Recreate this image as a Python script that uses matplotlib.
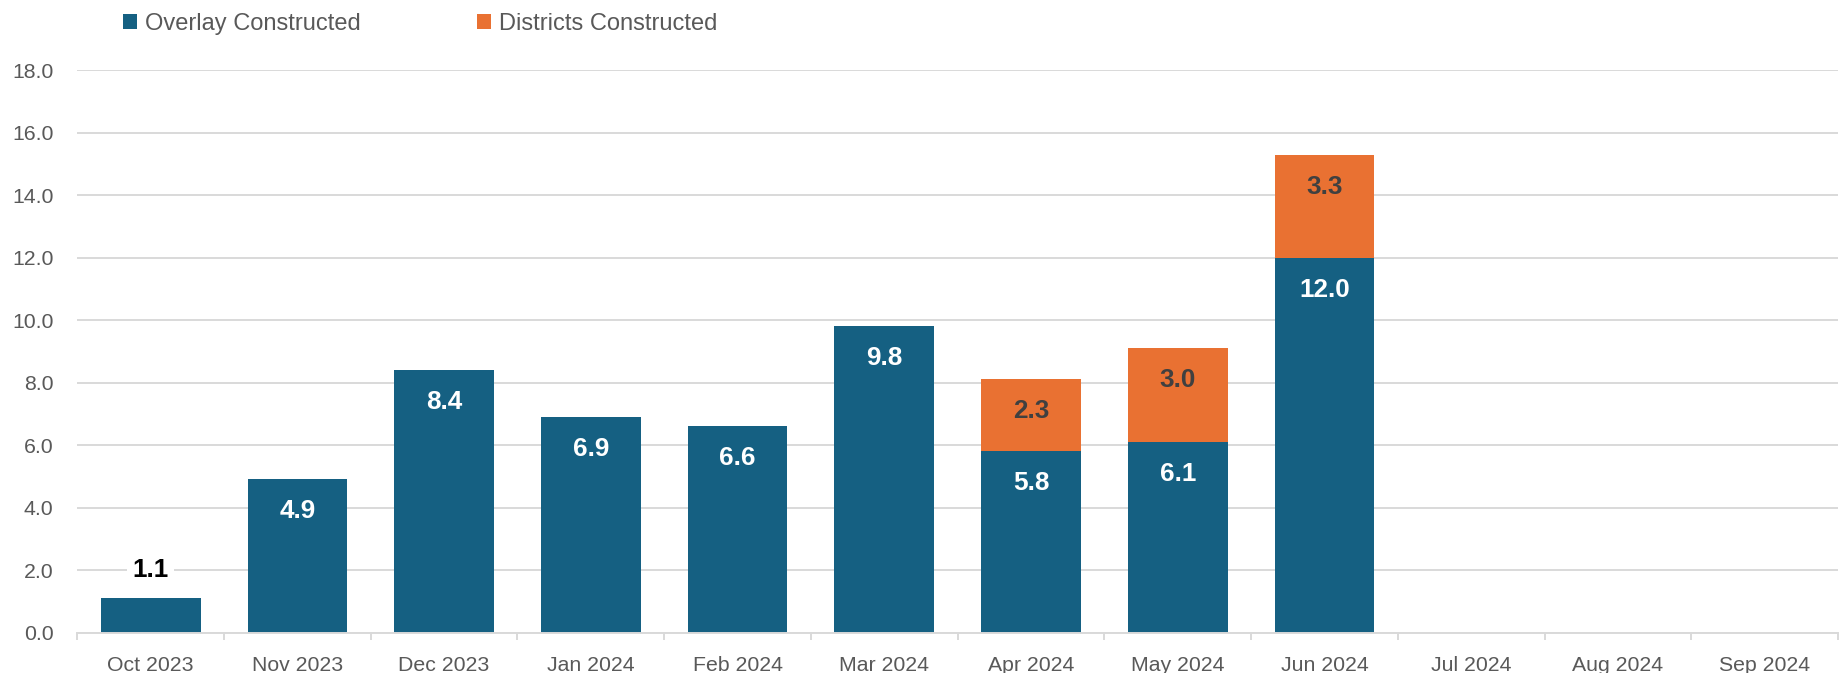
import numpy as np
import matplotlib
matplotlib.use("Agg")
import matplotlib.pyplot as plt
from matplotlib.patches import Rectangle
from matplotlib.ticker import FixedLocator, FormatStrFormatter

# ---- data ----
months = ["Oct 2023", "Nov 2023", "Dec 2023", "Jan 2024", "Feb 2024", "Mar 2024",
          "Apr 2024", "May 2024", "Jun 2024", "Jul 2024", "Aug 2024", "Sep 2024"]
overlay = [1.1, 4.9, 8.4, 6.9, 6.6, 9.8, 5.8, 6.1, 12.0, np.nan, np.nan, np.nan]
districts = [np.nan, np.nan, np.nan, np.nan, np.nan, np.nan, 2.3, 3.0, 3.3, np.nan, np.nan, np.nan]
series_names = ["Overlay Constructed", "Districts Constructed"]
yticks = [0, 2, 4, 6, 8, 10, 12, 14, 16, 18]

BLUE = "#156082"
ORANGE = "#E97132"
GRID = "#D9D9D9"
TXT = "#595959"
FONT = ["Liberation Sans", "DejaVu Sans"]

plt.rcParams["font.family"] = FONT

W, H, DPI = 1846, 673, 100
fig = plt.figure(figsize=(W / DPI, H / DPI), dpi=DPI)
ax_left, ax_right = 77.3 / W, 1838.0 / W
ax_bottom, ax_top = (H - 632.5) / H, (H - 70.2) / H
ax = fig.add_axes([ax_left, ax_bottom, ax_right - ax_left, ax_top - ax_bottom])

x = np.arange(len(months))
ov = np.array(overlay, dtype=float)
di = np.array(districts, dtype=float)
bw = 0.68
b1 = ax.bar(x, np.nan_to_num(ov), width=bw, color=BLUE, zorder=3, linewidth=0)
b2 = ax.bar(x, np.nan_to_num(di), width=bw, bottom=np.nan_to_num(ov), color=ORANGE,
            zorder=3, linewidth=0)

ax.set_xlim(-0.5, len(months) - 0.5)
ax.set_ylim(0, 18)
ax.set_yticks(yticks)
ax.yaxis.set_major_formatter(FormatStrFormatter("%.1f"))
ax.grid(axis="y", color=GRID, linewidth=1.4, zorder=0)
ax.set_axisbelow(True)
for s in ["left", "right", "top"]:
    ax.spines[s].set_visible(False)
ax.spines["bottom"].set_color(GRID)
ax.spines["bottom"].set_linewidth(1.4)
ax.spines["bottom"].set_zorder(4)

ax.set_xticks(x)
ax.set_xticklabels(months)
ax.xaxis.set_minor_locator(FixedLocator(np.arange(-0.5, len(months), 1.0)))
ax.tick_params(axis="x", which="major", length=0, pad=17, labelsize=15.3, labelcolor=TXT)
ax.tick_params(axis="x", which="minor", length=5, width=1.4, color=GRID, direction="out")
ax.tick_params(axis="y", length=0, pad=17.3, labelsize=15.3, labelcolor=TXT)

# ---- data labels ----
px_per_unit = (632.5 - 70.2) / 18.0
lab_kw = dict(fontsize=18.8, fontweight="bold", ha="center", va="baseline",
              textcoords="offset points", family=FONT)
for i, v in enumerate(ov):
    if np.isnan(v):
        continue
    if v * px_per_unit < 60:
        ax.annotate(f"{v:.1f}", (x[i], v), xytext=(0, 21.5 * 0.72), color="black",
                    bbox=dict(facecolor="white", edgecolor="none", pad=4), zorder=5, **lab_kw)
    else:
        ax.annotate(f"{v:.1f}", (x[i], v), xytext=(0, -39.0 * 0.72), color="white", **lab_kw)
for i, v in enumerate(di):
    if np.isnan(v):
        continue
    top = ov[i] + v
    ax.annotate(f"{v:.1f}", (x[i], top), xytext=(0, -39.0 * 0.72), color="#404040", **lab_kw)

# ---- legend ----
legend_items = [(series_names[0], BLUE, 123.3, 145.0), (series_names[1], ORANGE, 477.3, 498.7)]
for name, col, sx, tx in legend_items:
    fig.add_artist(Rectangle((sx / W, (H - 28.7) / H), 14.0 / W, 14.7 / H,
                             transform=fig.transFigure, facecolor=col, edgecolor="none"))
    fig.text(tx / W, (H - 21.3) / H, name, fontsize=17, color=TXT, ha="left",
             va="center_baseline")

fig.savefig("out.png", dpi=DPI)
